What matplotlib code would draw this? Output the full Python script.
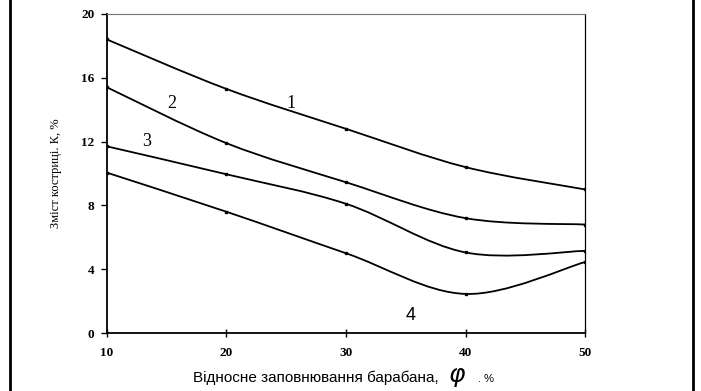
import numpy as np
import matplotlib
matplotlib.use('Agg')
import matplotlib.pyplot as plt
from matplotlib.path import Path
from matplotlib.patches import PathPatch
from matplotlib.lines import Line2D

# Data
fill_pct = [10, 20, 30, 40, 50]
curve_1 = [18.4, 15.3, 12.8, 10.4, 9.0]
curve_2 = [15.4, 11.9, 9.45, 7.2, 6.8]
curve_3 = [11.7, 9.95, 8.1, 5.05, 5.15]
curve_4 = [10.05, 7.6, 5.0, 2.45, 4.45]
curves = [curve_1, curve_2, curve_3, curve_4]
curve_labels = ['1', '2', '3', '4']
label_pos = [(25.4, 14.4), (15.4, 14.4), (13.3, 12.0), (35.4, 1.1)]
x_ticks = [10, 20, 30, 40, 50]
y_ticks = [0, 4, 8, 12, 16, 20]


def smooth_path(xs, ys):
    # Catmull-Rom segments turned into cubic Bezier pieces
    pts = np.column_stack([xs, ys]).astype(float)
    ext = np.vstack([pts[0], pts, pts[-1]])
    verts = [tuple(pts[0])]
    codes = [Path.MOVETO]
    for i in range(1, len(ext) - 2):
        p0, p1, p2, p3 = ext[i - 1], ext[i], ext[i + 1], ext[i + 2]
        c1 = p1 + (p2 - p0) / 6.0
        c2 = p2 - (p3 - p1) / 6.0
        verts += [tuple(c1), tuple(c2), tuple(p2)]
        codes += [Path.CURVE4] * 3
    return Path(verts, codes)


fig = plt.figure(figsize=(7.01, 3.91), dpi=100)
ax = fig.add_axes([0.1526, 0.1483, 0.682, 0.816])

for ys in curves:
    ax.add_patch(PathPatch(smooth_path(fill_pct, ys), facecolor='none',
                           edgecolor='black', lw=1.3))
    ax.plot(fill_pct, ys, linestyle='none', marker='s', ms=1.8, color='black')

for lab, (lx, ly) in zip(curve_labels, label_pos):
    fam = 'Liberation Sans' if lab == '4' else 'Liberation Serif'
    ax.text(lx, ly, lab, fontsize=13, family=fam, ha='center', va='center')

ax.set_xlim(10, 50)
ax.set_ylim(0, 20)
ax.set_xticks(x_ticks)
ax.set_yticks(y_ticks)
for t in ax.get_xticklabels() + ax.get_yticklabels():
    t.set_family('Liberation Serif')
    t.set_fontweight('bold')
    t.set_fontsize(9.5)
ax.tick_params(axis='x', direction='inout', length=6, width=1, pad=7)
ax.tick_params(axis='y', direction='out', length=4, width=1, pad=5)

ax.spines['left'].set_linewidth(1.3)
ax.spines['bottom'].set_linewidth(1.3)
ax.spines['right'].set_linewidth(0.9)
ax.spines['top'].set_linewidth(0.8)
ax.spines['top'].set_color('0.45')

ax.set_ylabel('Зміст костриці. К, %', family='Liberation Serif', fontsize=9, labelpad=14)

# x label built from three pieces
fig.text(193 / 701, 1 - 382 / 391, 'Відносне заповнювання барабана,',
         family='Liberation Sans', fontsize=11, ha='left', va='baseline')
fig.text(457 / 701, 1 - 382 / 391, r'$\varphi$', fontsize=18, ha='center', va='baseline')
fig.text(478 / 701, 1 - 382 / 391, '. %', family='Liberation Sans', fontsize=8,
         ha='left', va='baseline')

# vertical frame lines at the sides
fig.add_artist(Line2D([10 / 701, 10 / 701], [0, 1], transform=fig.transFigure,
                      color='black', lw=2))
fig.add_artist(Line2D([693 / 701, 693 / 701], [0, 1], transform=fig.transFigure,
                      color='black', lw=2))

fig.savefig('out.png', dpi=100)
